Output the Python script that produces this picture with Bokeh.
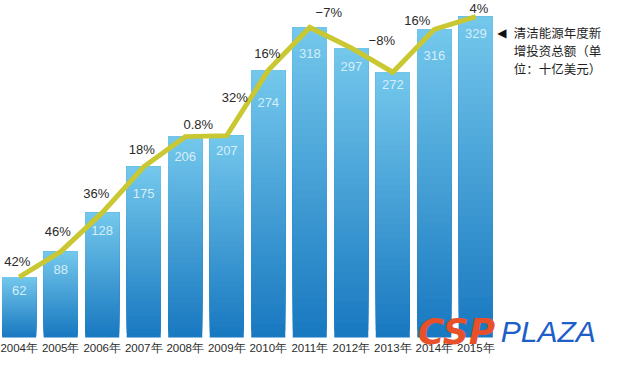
import numpy as np
from bokeh.plotting import figure
from bokeh.models import ColumnDataSource
from bokeh.core.properties import value
from bokeh.embed import file_html
from bokeh.resources import INLINE

# ---------------- data ----------------
years = ["2004年", "2005年", "2006年", "2007年", "2008年", "2009年",
         "2010年", "2011年", "2012年", "2013年", "2014年", "2015年"]
investment = [62, 88, 128, 175, 206, 207, 274, 318, 297, 272, 316, 329]
growth_labels = ["42%", "46%", "36%", "18%", "0.8%", "32%", "16%",
                 "\u22127%", "\u22128%", "16%", "4%"]
note_lines = ["清洁能源年度新", "增投资总额（单", "位：十亿美元）"]
logo_red = "CSP"
logo_blue = "PLAZA"

# ---------------- layout (offsets in screen pixels) ----------------
growth_anchor = [0, 1, 2, 3, 4, 5, 6, 7, 9, 10, 11]
growth_dx = [-2, -3, -6, -2, 13, 8, -1, 19, -11, -17, 3]
growth_dy = [-16, -20, -19, -17, -12, -38, -17, -15, -32, -9, -8]
value_dy = [13, 18, 18, 27, 20, 15, 32, 26, 19, 12, 26, 17]
note_dx = 38
note_dy = [16, 34, 52]

FONT = "Liberation Sans"

p = figure(width=604, height=355, x_range=(-0.45, 14.1), y_range=(-18.5, 345.6),
           output_backend="svg", toolbar_location=None,
           min_border_left=0, min_border_right=0, min_border_top=0,
           min_border_bottom=0)
p.outline_line_color = None
p.grid.visible = False
p.axis.visible = False
p.background_fill_color = "white"

xi = list(range(len(years)))

# ---------------- gradient bars ----------------
dark = np.array([0x18, 0x78, 0xc0])
light = np.array([0x74, 0xc8, 0xec])
K = 40
bx, bb, bt, bc = [], [], [], []
for i, v in enumerate(investment):
    for j in range(K):
        f = (j + 0.5) / K
        c = dark + (light - dark) * f
        bx.append(i)
        bb.append(v * j / K)
        bt.append(v)
        bc.append("#%02x%02x%02x" % tuple(int(round(t)) for t in c))
p.vbar(x=bx, bottom=bb, top=bt, width=0.82, fill_color=bc, line_color=None)

# ---------------- year labels (category axis) ----------------
p.text(x=xi, y=[0] * len(xi), text=years, y_offset=[11] * len(xi),
       text_align="center", text_baseline="middle", text_color="#2b2b2b",
       text_font_size="11.5px", text_font=value(FONT))

# ---------------- growth line ----------------
p.line(x=xi, y=investment, line_color="#c9c832", line_width=5, line_join="miter")

# ---------------- value labels ----------------
p.text(x=xi, y=investment, text=[str(v) for v in investment], y_offset=value_dy,
       text_align="center", text_baseline="middle", text_color="#d6eef9",
       text_font_size="13px", text_font=value(FONT))

# ---------------- growth labels ----------------
gsrc = ColumnDataSource(dict(
    x=growth_anchor,
    y=[investment[a] for a in growth_anchor],
    t=growth_labels, dx=growth_dx, dy=growth_dy))
p.text(x="x", y="y", text="t", x_offset="dx", y_offset="dy", source=gsrc,
       text_align="center", text_baseline="middle", text_color="#2a2a2a",
       text_font_size="13px", text_font=value(FONT))

# ---------------- note on right ----------------
last = len(investment) - 1
p.text(x=[last], y=[investment[last]], text=["\u25c0"], x_offset=[26], y_offset=[note_dy[0]],
       text_align="center", text_baseline="middle", text_color="#111111",
       text_font_size="12px", text_font=value("DejaVu Sans"))
p.text(x=[last] * 3, y=[investment[last]] * 3, text=note_lines,
       x_offset=[note_dx] * 3, y_offset=note_dy,
       text_align="left", text_baseline="middle", text_color="#1e1e1e",
       text_font_size="12.5px", text_font=value("Noto Sans CJK SC"))

# ---------------- logo ----------------
p.text(x=[9.6], y=[0], text=[logo_red], y_offset=[-6],
       text_align="left", text_baseline="alphabetic", text_color="#e8502a",
       text_font_size="36px", text_font=value("DejaVu Sans"),
       text_font_style="bold italic")
p.text(x=[11.6], y=[0], text=[logo_blue], y_offset=[-6],
       text_align="left", text_baseline="alphabetic", text_color="#1d5ec8",
       text_font_size="30px", text_font=value(FONT), text_font_style="italic")

open("out.html", "w").write(file_html(p, INLINE))
